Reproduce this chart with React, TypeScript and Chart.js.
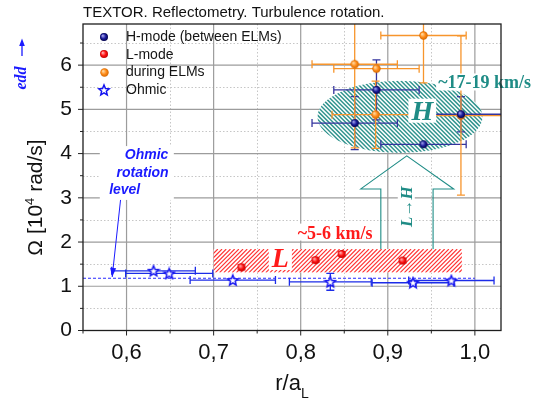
import React, { useEffect, useRef } from 'react';
import { Chart, registerables } from 'chart.js';

Chart.register(...registerables);

// ---------------- data ----------------
const hModeX = [0.862, 0.887, 0.941, 0.984];
const hModeY = [4.69, 5.44, 4.21, 4.89];
const hModeXErr = [0.049, 0.049, 0.049, 0.05];
const hModeYErr = [0.6, 0.68, 0, 0.4];

const lModeX = [0.732, 0.817, 0.847, 0.917];
const lModeY = [1.43, 1.59, 1.73, 1.58];
const lModeXErr = [0, 0, 0, 0];
const lModeYErr = [0.06, 0.05, 0.05, 0.05];

const elmX = [0.941, 0.862, 0.887, 0.886, 0.984];
const elmY = [6.67, 6.02, 5.92, 4.88, 4.86];
const elmXErr = [0.049, 0.049, 0.049, 0.05, 0.05];
const elmYErr = [1.07, 1.89, 0, 0.76, 1.8];

const ohmicX = [0.631, 0.649, 0.722, 0.834, 0.929, 0.973];
const ohmicY = [1.35, 1.29, 1.14, 1.1, 1.08, 1.13];
const ohmicXErr = [0.048, 0.05, 0.049, 0.047, 0.047, 0.049];
const ohmicYErr = [0, 0, 0, 0.19, 0.05, 0];

const ohmicLevel = 1.18;
const ohmicLevelRange = [0.55, 1.0];

const seriesLabels = ['H-mode (between ELMs)', 'L-mode', 'during ELMs', 'Ohmic'];

const xTicks = [0.55, 0.6, 0.65, 0.7, 0.75, 0.8, 0.85, 0.9, 0.95, 1.0];
const xTickLabels = ['', '0,6', '', '0,7', '', '0,8', '', '0,9', '', '1,0'];
const yTicks = [0, 0.5, 1, 1.5, 2, 2.5, 3, 3.5, 4, 4.5, 5, 5.5, 6, 6.5];
const yTickLabels = ['0', '', '1', '', '2', '', '3', '', '4', '', '5', '', '6', ''];

const titleText = 'TEXTOR. Reflectometry. Turbulence rotation.';

// annotation geometry (data units)
const lBand = { x0: 0.7, x1: 0.985, y0: 1.31, y1: 1.84 };
const hEllipse = { cx: 0.914, cy: 4.83, rx: 0.0947, ry: 0.815 };
const lhArrow = { tipX: 0.9218, tipY: 3.948, headY: 3.201, headX0: 0.869, headX1: 0.9757, shaftX0: 0.892, shaftX1: 0.952, baseY: 1.84 };
const ohmicArrow = { x0: 0.5931, y0: 2.952, x1: 0.5835, y1: 1.21 };

const SANS = '"Liberation Sans", Arial, Helvetica, sans-serif';
const SERIF = '"Liberation Serif", "Times New Roman", serif';
const TEAL = '#1f8c86';
const RED = '#ff1a1a';
const BLUE = '#1a1aff';

function ball(c1: string, c2: string, c3: string, r: number) {
  const s = Math.ceil(r * 2) + 2;
  const cv = document.createElement('canvas');
  cv.width = s; cv.height = s;
  const g = cv.getContext('2d')!;
  const c = s / 2;
  const grad = g.createRadialGradient(c - r * 0.35, c - r * 0.35, r * 0.1, c, c, r);
  grad.addColorStop(0, c1); grad.addColorStop(0.55, c2); grad.addColorStop(1, c3);
  g.fillStyle = grad;
  g.beginPath(); g.arc(c, c, r, 0, Math.PI * 2); g.fill();
  return cv;
}

function star(color: string, R: number) {
  const s = Math.ceil(R * 2) + 3;
  const cv = document.createElement('canvas');
  cv.width = s; cv.height = s;
  const g = cv.getContext('2d')!;
  const c = s / 2;
  const r = R * 0.45;
  g.beginPath();
  for (let i = 0; i < 10; i++) {
    const a = -Math.PI / 2 + (i * Math.PI) / 5;
    const rr = i % 2 === 0 ? R : r;
    const px = c + rr * Math.cos(a), py = c + 0.5 + rr * Math.sin(a);
    if (i === 0) g.moveTo(px, py); else g.lineTo(px, py);
  }
  g.closePath();
  g.fillStyle = '#ffffff'; g.fill();
  g.strokeStyle = color; g.lineWidth = 1.5; g.stroke();
  return cv;
}

export default function App() {
  const ref = useRef<HTMLCanvasElement>(null);

  useEffect(() => {
    const canvas = ref.current!;
    const navyBall = ball('#a0a0ea', '#1c1c9c', '#00004a', 4);
    const redBall = ball('#ffb0b0', '#ff1414', '#c00000', 4);
    const orangeBall = ball('#ffd9a0', '#ff8c1a', '#d46800', 4.2);
    const blueStar = star('#1414f0', 5.5);
    const markers = [navyBall, redBall, orangeBall, blueStar];

    const pts = (xs: number[], ys: number[]) => xs.map((x, i) => ({ x, y: ys[i] }));

    const decor = {
      id: 'decor',
      beforeDatasetsDraw(chart: any) {
        const ctx = chart.ctx as CanvasRenderingContext2D;
        const ca = chart.chartArea;
        const sx = chart.scales.x, sy = chart.scales.y;
        const X = (v: number) => sx.getPixelForValue(v);
        const Y = (v: number) => sy.getPixelForValue(v);
        ctx.save();
        ctx.beginPath(); ctx.rect(ca.left, ca.top, ca.right - ca.left, ca.bottom - ca.top); ctx.clip();
        // minor grid
        ctx.strokeStyle = '#c6c6c6'; ctx.lineWidth = 1; ctx.setLineDash([1.5, 2]);
        xTicks.forEach((v, i) => {
          if (xTickLabels[i] !== '' || v <= sx.min) return;
          const p = Math.round(X(v)) + 0.5;
          ctx.beginPath(); ctx.moveTo(p, ca.top); ctx.lineTo(p, ca.bottom); ctx.stroke();
        });
        yTicks.forEach((v, i) => {
          if (yTickLabels[i] !== '') return;
          const p = Math.round(Y(v)) + 0.5;
          ctx.beginPath(); ctx.moveTo(ca.left, p); ctx.lineTo(ca.right, p); ctx.stroke();
        });
        // major grid
        ctx.setLineDash([]); ctx.strokeStyle = '#9c9c9c'; ctx.lineWidth = 1.2;
        xTicks.forEach((v, i) => {
          if (xTickLabels[i] === '') return;
          const p = X(v);
          ctx.beginPath(); ctx.moveTo(p, ca.top); ctx.lineTo(p, ca.bottom); ctx.stroke();
        });
        yTicks.forEach((v, i) => {
          if (yTickLabels[i] === '' || v === 0) return;
          const p = Y(v);
          ctx.beginPath(); ctx.moveTo(ca.left, p); ctx.lineTo(ca.right, p); ctx.stroke();
        });

        // hatched regions
        const hatch = (bx: number, by: number, bw: number, bh: number, sp: number, dir: number, color: string, lw: number) => {
          ctx.strokeStyle = color; ctx.lineWidth = lw;
          for (let x = bx - bh - sp; x < bx + bw + bh + sp; x += sp) {
            ctx.beginPath();
            if (dir > 0) { ctx.moveTo(x, by + bh); ctx.lineTo(x + bh, by); }
            else { ctx.moveTo(x, by); ctx.lineTo(x + bh, by + bh); }
            ctx.stroke();
          }
        };
        {
          const x0 = X(lBand.x0), x1 = X(lBand.x1), y0 = Y(lBand.y1), y1 = Y(lBand.y0);
          ctx.save();
          ctx.beginPath(); ctx.rect(x0, y0, x1 - x0, y1 - y0);
          ctx.fillStyle = '#ffffff'; ctx.fill(); ctx.clip();
          hatch(x0, y0, x1 - x0, y1 - y0, 4.2, 1, '#ff3030', 1.2);
          ctx.restore();
        }
        {
          const cx = X(hEllipse.cx), cy = Y(hEllipse.cy);
          const rx = Math.abs(X(hEllipse.cx + hEllipse.rx) - cx), ry = Math.abs(Y(hEllipse.cy + hEllipse.ry) - cy);
          ctx.save();
          ctx.beginPath(); ctx.ellipse(cx, cy, rx, ry, 0, 0, Math.PI * 2);
          ctx.fillStyle = '#ffffff'; ctx.fill(); ctx.clip();
          hatch(cx - rx, cy - ry, rx * 2, ry * 2, 4.2, -1, '#2f938d', 1.5);
          ctx.restore();
        }

        // error bars
        chart.data.datasets.forEach((ds: any) => {
          if (!ds.errX) return;
          ctx.strokeStyle = ds.errColor; ctx.lineWidth = 1.3;
          const cap = 4;
          ds.data.forEach((p: any, j: number) => {
            const ex = ds.errX[j], ey = ds.errY[j];
            const cx = X(p.x), cy = Y(p.y);
            if (ex > 0) {
              const x1 = X(p.x - ex), x2 = X(p.x + ex);
              ctx.beginPath(); ctx.moveTo(x1, cy); ctx.lineTo(x2, cy);
              ctx.moveTo(x1, cy - cap); ctx.lineTo(x1, cy + cap);
              ctx.moveTo(x2, cy - cap); ctx.lineTo(x2, cy + cap); ctx.stroke();
            }
            if (ey > 0) {
              const y1 = Y(p.y + ey), y2 = Y(p.y - ey);
              ctx.beginPath(); ctx.moveTo(cx, y1); ctx.lineTo(cx, y2);
              ctx.moveTo(cx - cap, y1); ctx.lineTo(cx + cap, y1);
              ctx.moveTo(cx - cap, y2); ctx.lineTo(cx + cap, y2); ctx.stroke();
            }
          });
        });
        ctx.restore();
      },
      afterDatasetsDraw(chart: any) {
        const ctx = chart.ctx as CanvasRenderingContext2D;
        const ca = chart.chartArea;
        const sx = chart.scales.x, sy = chart.scales.y;
        const X = (v: number) => sx.getPixelForValue(v);
        const Y = (v: number) => sy.getPixelForValue(v);
        ctx.save();

        // L->H arrow outline
        ctx.strokeStyle = TEAL; ctx.lineWidth = 1.1;
        ctx.beginPath();
        ctx.moveTo(X(lhArrow.shaftX0), Y(lhArrow.baseY));
        ctx.lineTo(X(lhArrow.shaftX0), Y(lhArrow.headY));
        ctx.lineTo(X(lhArrow.headX0), Y(lhArrow.headY));
        ctx.lineTo(X(lhArrow.tipX), Y(lhArrow.tipY));
        ctx.lineTo(X(lhArrow.headX1), Y(lhArrow.headY));
        ctx.lineTo(X(lhArrow.shaftX1), Y(lhArrow.headY));
        ctx.lineTo(X(lhArrow.shaftX1), Y(lhArrow.baseY));
        ctx.stroke();

        const boxText = (text: string, x: number, y: number, font: string, color: string, align: CanvasTextAlign, pad = 2, rot = 0) => {
          ctx.save();
          ctx.font = font; ctx.textAlign = align; ctx.textBaseline = 'middle';
          const m = ctx.measureText(text);
          const w = m.width;
          const h = (m.actualBoundingBoxAscent + m.actualBoundingBoxDescent) || 14;
          ctx.translate(x, y);
          if (rot) ctx.rotate(rot);
          const left = align === 'left' ? 0 : align === 'right' ? -w : -w / 2;
          const top = -m.actualBoundingBoxAscent;
          ctx.fillStyle = '#ffffff';
          ctx.fillRect(left - pad, top - pad, w + pad * 2, h + pad * 2);
          ctx.fillStyle = color;
          ctx.fillText(text, 0, 0);
          ctx.restore();
        };

        // Ohmic annotation
        {
          ctx.fillStyle = '#ffffff';
          ctx.fillRect(X(0.5693), Y(4.17), X(0.6543) - X(0.5693), Y(2.952) - Y(4.17));
          ctx.font = 'bold italic 14px ' + SANS; ctx.fillStyle = BLUE; ctx.textAlign = 'left'; ctx.textBaseline = 'middle';
          ctx.fillText('Ohmic', X(0.598), Y(3.97));
          ctx.fillText('rotation', X(0.5885), Y(3.557));
          ctx.fillText('level', X(0.58), Y(3.163));
          const ax0 = X(ohmicArrow.x0), ay0 = Y(ohmicArrow.y0), ax1 = X(ohmicArrow.x1), ay1 = Y(ohmicArrow.y1);
          ctx.strokeStyle = BLUE; ctx.lineWidth = 1;
          ctx.beginPath(); ctx.moveTo(ax0, ay0); ctx.lineTo(ax1, ay1); ctx.stroke();
          const ang = Math.atan2(ay1 - ay0, ax1 - ax0);
          const L = 9, W = 3;
          ctx.fillStyle = BLUE;
          ctx.beginPath();
          ctx.moveTo(ax1, ay1);
          ctx.lineTo(ax1 - L * Math.cos(ang) + W * Math.sin(ang), ay1 - L * Math.sin(ang) - W * Math.cos(ang));
          ctx.lineTo(ax1 - L * Math.cos(ang) - W * Math.sin(ang), ay1 - L * Math.sin(ang) + W * Math.cos(ang));
          ctx.closePath(); ctx.fill();
        }

        boxText('~5-6 km/s', X(0.7965), Y(2.183), 'bold 18px ' + SERIF, RED, 'left', 2);
        boxText('L', X(0.7766), Y(1.60), 'bold italic 28px ' + SERIF, RED, 'center', 3);
        boxText('~17-19 km/s', X(0.9578), Y(5.577), 'bold 18px ' + SERIF, TEAL, 'left', 2);
        boxText('H', X(0.9396), Y(4.93), 'bold italic 28px ' + SERIF, TEAL, 'center', 3);
        boxText('L\u2192H', X(0.9225), Y(2.80), 'bold italic 17px ' + SERIF, TEAL, 'center', 3, -Math.PI / 2);

        // frame
        ctx.strokeStyle = '#1e1e1e'; ctx.lineWidth = 1.3;
        ctx.strokeRect(ca.left, ca.top, ca.right - ca.left, ca.bottom - ca.top);
        // ticks
        ctx.lineWidth = 1; ctx.strokeStyle = '#222';
        xTicks.forEach((v, i) => {
          const p = X(v); const len = xTickLabels[i] === '' ? 3 : 5;
          ctx.beginPath(); ctx.moveTo(p, ca.bottom); ctx.lineTo(p, ca.bottom + len); ctx.stroke();
        });
        yTicks.forEach((v, i) => {
          const p = Y(v); const len = yTickLabels[i] === '' ? 3 : 5;
          ctx.beginPath(); ctx.moveTo(ca.left, p); ctx.lineTo(ca.left - len, p); ctx.stroke();
        });

        // legend
        const legRows = [36.7, 54.3, 72, 90];
        ctx.font = '14px ' + SANS; ctx.fillStyle = '#151515'; ctx.textAlign = 'left'; ctx.textBaseline = 'middle';
        seriesLabels.forEach((lab, i) => {
          const mk = markers[i];
          ctx.drawImage(mk, Math.round(104.3 - mk.width / 2), Math.round(legRows[i] - mk.height / 2));
          ctx.fillText(lab, 126, legRows[i] + 0.5);
        });

        // title
        ctx.font = '15px ' + SANS; ctx.fillStyle = '#111'; ctx.textBaseline = 'alphabetic'; ctx.textAlign = 'left';
        ctx.fillText(titleText, 83, 16.5);

        // y axis title with superscript
        {
          ctx.save();
          ctx.translate(41.5, 197.5); ctx.rotate(-Math.PI / 2);
          const f1 = '21px ' + SANS, f2 = '13px ' + SANS;
          ctx.font = f1; const w1 = ctx.measureText('\u03A9 [10').width; const w3 = ctx.measureText(' rad/s]').width;
          ctx.font = f2; const w2 = ctx.measureText('4').width;
          let x = -(w1 + w2 + w3) / 2;
          ctx.fillStyle = '#111'; ctx.textBaseline = 'alphabetic'; ctx.textAlign = 'left';
          ctx.font = f1; ctx.fillText('\u03A9 [10', x, 0); x += w1;
          ctx.font = f2; ctx.fillText('4', x, -8); x += w2;
          ctx.font = f1; ctx.fillText(' rad/s]', x, 0);
          ctx.restore();
        }
        // x axis title with subscript
        {
          const f1 = '22px ' + SANS, f2 = '14px ' + SANS;
          ctx.font = f1; const w1 = ctx.measureText('r/a').width;
          ctx.font = f2; const w2 = ctx.measureText('L').width;
          let x = (ca.left + ca.right) / 2 - (w1 + w2) / 2;
          ctx.fillStyle = '#111'; ctx.textBaseline = 'alphabetic'; ctx.textAlign = 'left';
          ctx.font = f1; ctx.fillText('r/a', x, 390); x += w1;
          ctx.font = f2; ctx.fillText('L', x, 398);
        }
        // edd arrow label
        {
          ctx.save();
          ctx.translate(26, 78); ctx.rotate(-Math.PI / 2);
          ctx.font = 'bold italic 16px ' + SERIF; ctx.fillStyle = BLUE; ctx.textAlign = 'center'; ctx.textBaseline = 'alphabetic';
          ctx.fillText('edd', 0, 0);
          ctx.restore();
          ctx.strokeStyle = BLUE; ctx.lineWidth = 1.3;
          ctx.beginPath(); ctx.moveTo(22, 56); ctx.lineTo(22, 44); ctx.stroke();
          ctx.fillStyle = BLUE;
          ctx.beginPath(); ctx.moveTo(22, 38.5); ctx.lineTo(19.2, 46); ctx.lineTo(24.8, 46); ctx.closePath(); ctx.fill();
        }
        ctx.restore();
      },
    };

    const chart = new Chart(canvas, {
      type: 'scatter',
      data: {
        datasets: [
          {
            label: 'Ohmic level',
            data: [{ x: ohmicLevelRange[0], y: ohmicLevel }, { x: ohmicLevelRange[1], y: ohmicLevel }],
            showLine: true, pointRadius: 0, borderColor: '#2a2aff', borderWidth: 1.1, borderDash: [3, 2], fill: false,
          } as any,
          {
            label: seriesLabels[3], data: pts(ohmicX, ohmicY), pointStyle: blueStar, pointRadius: 5,
            errX: ohmicXErr, errY: ohmicYErr, errColor: '#1c2ce8',
          } as any,
          {
            label: seriesLabels[1], data: pts(lModeX, lModeY), pointStyle: redBall, pointRadius: 4,
            errX: lModeXErr, errY: lModeYErr, errColor: '#ff4040',
          } as any,
          {
            label: seriesLabels[0], data: pts(hModeX, hModeY), pointStyle: navyBall, pointRadius: 4,
            errX: hModeXErr, errY: hModeYErr, errColor: '#34349e',
          } as any,
          {
            label: seriesLabels[2], data: pts(elmX, elmY), pointStyle: orangeBall, pointRadius: 4,
            errX: elmXErr, errY: elmYErr, errColor: '#f7952c',
          } as any,
        ],
      },
      options: {
        animation: false,
        responsive: false,
        events: [],
        layout: { padding: { top: 24, right: 38, left: 0, bottom: 0 } },
        plugins: { legend: { display: false }, tooltip: { enabled: false }, title: { display: false } },
        scales: {
          x: {
            type: 'linear', min: 0.55, max: 1.03,
            afterBuildTicks: (s: any) => { s.ticks = xTicks.map((v) => ({ value: v })); },
            afterFit: (s: any) => { s.height = 70.5; },
            grid: { display: false, drawTicks: false },
            border: { display: false },
            ticks: {
              autoSkip: false, maxRotation: 0, padding: 9, color: '#111',
              font: { family: SANS, size: 22 },
              callback: (_v: any, i: number) => xTickLabels[i],
            },
          },
          y: {
            type: 'linear', min: 0, max: 6.93,
            afterBuildTicks: (s: any) => { s.ticks = yTicks.map((v) => ({ value: v })); },
            afterFit: (s: any) => { s.width = 83; },
            grid: { display: false, drawTicks: false },
            border: { display: false },
            ticks: {
              autoSkip: false, padding: 11, color: '#111',
              font: { family: SANS, size: 21 },
              callback: (_v: any, i: number) => yTickLabels[i],
            },
          },
        },
      } as any,
      plugins: [decor],
    });

    return () => chart.destroy();
  }, []);

  return (
    <div style={{ position: 'fixed', left: 0, top: 0, width: 539, height: 401, background: '#ffffff' }}>
      <canvas ref={ref} width={539} height={401} style={{ display: 'block', width: 539, height: 401 }} />
    </div>
  );
}
